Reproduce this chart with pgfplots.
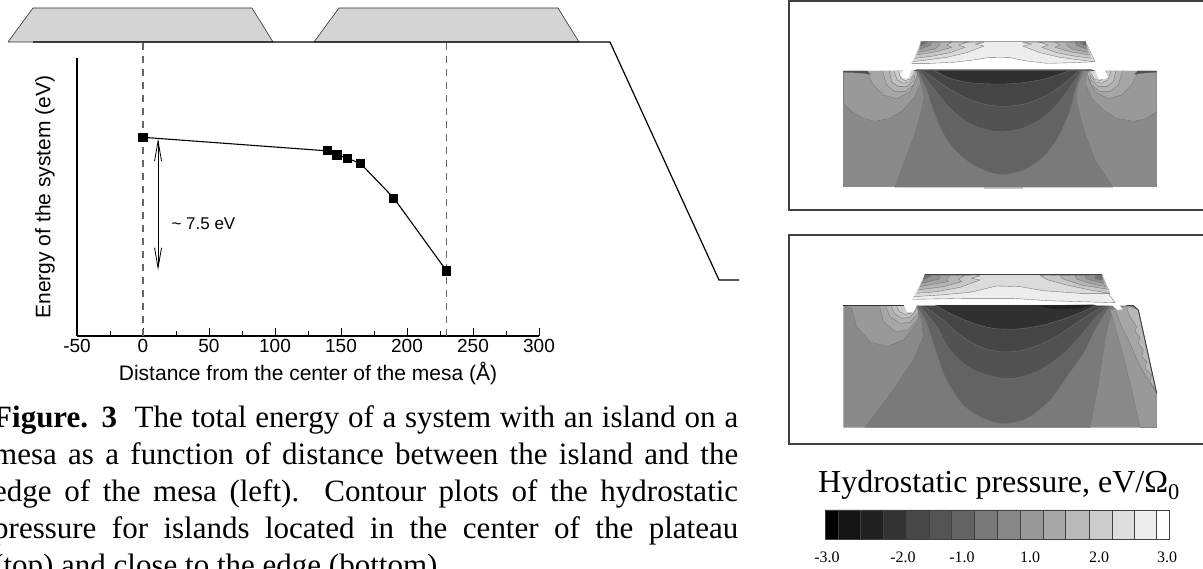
\documentclass[border=0pt]{standalone}
\usepackage{pgfplots}
\pgfplotsset{compat=1.18}
\usepackage{fontspec}
\setmainfont{Liberation Serif}
\newfontfamily\arialf{Liberation Sans}
\usetikzlibrary{arrows.meta}
% px -> pt: 1 px = 1 pt
\pgfplotsset{panel/.style={axis lines=none,scale only axis,y dir=reverse,clip=true,xmin=0,xmax=1269,anchor=south west}}
\newcommand\PP[2]{\addplot[fill=black!#1,draw=black!55,line width=.35pt,line join=round,forget plot] coordinates {#2};}
\newcommand\PS[2]{\addplot[smooth,tension=.55,fill=black!#1,draw=black!55,line width=.35pt,line join=round,forget plot] coordinates {#2};}
\newcommand\PN[2]{\addplot[fill=black!#1,draw=none,forget plot] coordinates {#2};}
\newcommand\PM[2]{\addplot[fill=black!#1,draw=black!55,line width=.35pt,line join=round,forget plot,x filter/.expression={1335-x}] coordinates {#2};}
\newcommand\PI[2]{\addplot[fill=black!#1,draw=black!55,line width=.35pt,line join=round,forget plot,x filter/.expression={1340-x}] coordinates {#2};}
\newcommand\PB[2]{\PP{#1}{#2}\PM{#1}{#2}}
\newcommand\PC[2]{\PP{#1}{#2}\PI{#1}{#2}}
\newcommand\SG[3]{\addplot[fill=black!#3,draw=black!75,line width=.7pt,forget plot] coordinates {(#1,180)(#2,180)(#2,267)(#1,267)(#1,180)};}
\begin{document}
\begin{tikzpicture}[x=1pt,y=1pt]
\useasboundingbox (0,0) rectangle (1203,569);
\clip (0,0) rectangle (1203,569);
% schematic of the mesas, full canvas in pixels
\begin{axis}[at={(0,0)},anchor=south west,scale only axis,width=1203pt,height=569pt,axis lines=none,
  xmin=0,xmax=1203,ymin=0,ymax=569,y dir=reverse,clip=false]
\addplot[fill=black!17,draw=black!80,line width=.6pt,forget plot] coordinates {(8,42)(33,8)(252,8)(273,42)(8,42)};
\addplot[fill=black!17,draw=black!80,line width=.6pt,forget plot] coordinates {(314,42)(339,8)(558,8)(579,42)(314,42)};
\addplot[draw=black,line width=1.2pt,forget plot] coordinates {(33,42)(610,42)(719,280)(739,280)};
\addplot[draw=black!75,line width=1.1pt,forget plot] coordinates {(1210,1)(789,1)(789,210)(1210,210)};
\addplot[draw=black!75,line width=1.1pt,forget plot] coordinates {(1210,235)(789,235)(789,444)(1210,444)};
\end{axis}
% energy curve
\begin{axis}[at={(77pt,233pt)},anchor=south west,scale only axis,width=462pt,height=278pt,
  axis x line=bottom,axis y line=left,axis line style={-,line width=1.2pt},
  xmin=-50,xmax=300,ymin=-3.64,ymax=11.92,clip=false,
  xtick={-50,0,...,300},minor xtick={-25,25,75,125,175,225,275},ytick=\empty,
  tick align=inside,tick style={black,line width=.9pt},major tick length=8pt,minor tick length=5pt,
  xticklabel style={font=\arialf\fontsize{19}{22}\selectfont},
  /pgf/number format/assume math mode=true,
  xlabel={Distance from the center of the mesa (Å)},
  xlabel style={font=\arialf\fontsize{21}{24}\selectfont,at={(axis description cs:0.5,0)},yshift=-38pt,anchor=center},
  ylabel={Energy of the system (eV)},
  ylabel style={font=\arialf\fontsize{21}{24}\selectfont,at={(axis description cs:0,0.5)},rotate=0,yshift=32pt,anchor=center}]
\addplot[draw=black!60,line width=1.4pt,dash pattern=on 7pt off 6pt,forget plot] coordinates {(0,-3.64)(0,12.81)};
\addplot[draw=black!60,line width=1.4pt,dash pattern=on 7pt off 6pt,forget plot] coordinates {(230,-3.64)(230,12.81)};
\addplot[black,line width=1.1pt,mark=square*,mark size=4pt,mark options={solid}] coordinates {
(0,7.48)(140,6.72)(147,6.49)(155,6.31)(165,6.0)(190,4.08)(230,0)};
\addplot[black,line width=.8pt,{Straight Barb[length=20pt,width=7pt]}-{Straight Barb[length=20pt,width=7pt]}] coordinates {(11.4,7.4)(11.4,0.05)};
\end{axis}
\node[anchor=base west,font=\arialf\fontsize{17}{20}\selectfont] at (168,339) {\textasciitilde{} 7.5 eV};
% top contour panel
\begin{axis}[panel,at={(780pt,354pt)},width=423pt,height=215pt,ymin=0,ymax=645]
\PN{46}{(190,213)(1130,213)(1130,562)(190,562)}
\PN{20}{(612,561)(730,561)(730,566)(612,566)}
\PP{40}{(190,213)(190,308)(215,335)(250,355)(285,364)(330,355)(370,330)(405,290)(422,250)(415,213)}
\PP{40}{(1130,213)(1130,335)(1100,355)(1060,364)(1010,355)(970,330)(935,295)(915,250)(920,213)}
\PB{35}{(262,213)(265,225)(280,255)(310,285)(350,297)(390,275)(410,235)(410,213)}
\PB{30}{(308,213)(310,223)(320,255)(345,275)(375,275)(400,255)(412,225)(410,213)}
\PB{25}{(328,213)(330,223)(335,245)(355,260)(380,260)(402,240)(405,213)}
\PB{20}{(343,213)(345,223)(352,240)(370,250)(390,245)(405,225)(405,213)}
\PB{15}{(356,213)(358,223)(362,235)(375,242)(392,237)(402,220)(402,213)}
\PP{70}{(190,213)(262,213)(272,223)(240,219)(190,217)}
\PP{70}{(1130,213)(1073,213)(1063,223)(1095,219)(1130,217)}
\PP{52}{(345,562)(375,480)(405,400)(425,330)(432,290)(425,250)(410,215)(910,215)(895,250)(888,290)(895,330)(915,400)(945,480)(998,562)}
\PS{61}{(415,213)(440,270)(460,330)(490,400)(530,455)(590,500)(660,523)(730,510)(790,470)(835,410)(870,330)(885,270)(905,213)}
\PS{68}{(420,213)(465,270)(510,325)(560,365)(620,390)(680,394)(740,380)(800,345)(850,290)(885,240)(900,213)}
\PS{73}{(430,213)(490,255)(550,290)(610,312)(670,319)(740,310)(810,280)(860,245)(895,213)}
\PS{81}{(465,213)(510,235)(570,248)(640,252)(710,250)(790,238)(840,222)(875,210)}
\PN{67}{(412,206)(932,206)(945,213)(400,213)}
\PN{0}{(423,125)(917,125)(945,185)(975,212)(985,232)(970,238)(955,235)(945,208)(395,208)(385,235)(370,235)(360,222)(390,190)}
\PP{7}{(423,125)(917,125)(945,185)(880,188)(800,190)(740,183)(690,173)(630,172)(580,180)(520,187)(450,190)(395,190)}
\PC{15}{(423,125)(612,128)(585,132)(612,138)(560,158)(500,172)(440,180)(398,185)}
\PC{22}{(423,125)(560,127)(535,135)(555,142)(510,158)(460,168)(405,175)}
\PC{29}{(423,125)(515,127)(500,135)(515,142)(470,155)(410,165)}
\PC{36}{(423,125)(480,127)(480,135)(465,147)(415,157)}
\PC{46}{(423,125)(455,127)(450,137)(420,147)}
\PC{58}{(423,125)(440,127)(422,138)}
\end{axis}
% bottom contour panel
\begin{axis}[panel,at={(780pt,119pt)},width=423pt,height=220pt,ymin=0,ymax=660]
\PN{46}{(190,227)(1060,227)(1075,240)(1130,490)(1130,593)(190,593)}
\PP{40}{(190,227)(215,235)(230,290)(270,335)(320,350)(370,330)(410,280)(420,250)(415,227)}
\PP{35}{(300,227)(300,235)(310,275)(345,305)(385,300)(415,265)(415,227)}
\PP{30}{(320,227)(320,235)(330,260)(360,280)(390,277)(415,250)(415,227)}
\PP{25}{(335,227)(335,233)(345,252)(365,265)(390,262)(408,240)(408,227)}
\PP{20}{(350,227)(350,230)(358,245)(375,253)(392,250)(405,230)(405,227)}
\PP{52}{(255,593)(340,480)(400,390)(430,320)(425,270)(410,230)(1000,230)(985,280)(975,330)(955,460)(930,593)}
\PP{40}{(1130,490)(1130,593)(1080,593)(1055,480)(1030,380)(1005,290)(990,240)(1040,227)(1075,240)}
\PP{35}{(1005,240)(1025,290)(1050,340)(1075,400)(1105,450)(1130,490)(1075,240)(1050,228)}
\PP{28}{(1040,232)(1050,260)(1070,290)(1065,305)(1080,320)(1075,340)(1090,360)(1085,380)(1100,395)(1095,415)(1115,435)(1110,455)(1128,480)(1130,490)(1075,240)}
\PS{61}{(412,228)(440,280)(470,370)(500,450)(550,525)(610,565)(670,580)(740,565)(810,510)(860,440)(910,370)(950,290)(990,228)}
\PS{68}{(420,228)(470,290)(510,360)(570,415)(640,440)(700,445)(770,425)(840,380)(900,320)(945,265)(985,228)}
\PS{73}{(430,228)(490,270)(540,315)(600,350)(660,365)(730,360)(810,330)(880,285)(950,240)(975,228)}
\PS{81}{(465,225)(520,255)(580,280)(640,295)(710,297)(790,285)(870,260)(930,235)(950,225)}
\PN{87}{(770,228)(830,238)(900,235)(945,222)}
\PN{0}{(435,133)(965,133)(1000,205)(1015,222)(1028,238)(1012,240)(995,224)(412,224)(398,248)(380,245)(372,225)(395,210)}
\PP{7}{(398,208)(560,205)(700,205)(800,212)(1005,218)(985,190)(965,133)(435,133)}
\PP{14}{(435,133)(965,133)(990,190)(900,190)(790,182)(720,170)(650,168)(570,187)(480,195)(402,200)}
\PP{22}{(435,133)(600,137)(575,145)(600,150)(540,172)(470,185)(410,190)}
\PP{29}{(435,133)(555,137)(535,147)(545,155)(490,170)(415,180)}
\PP{36}{(435,133)(510,137)(500,147)(505,155)(455,163)(420,170)}
\PP{44}{(435,133)(480,137)(478,147)(425,160)}
\PP{56}{(435,133)(455,137)(430,148)}
\PP{22}{(965,133)(780,137)(805,150)(860,165)(930,180)(990,190)}
\PP{29}{(965,133)(840,137)(850,147)(905,165)(985,178)}
\PP{36}{(965,133)(885,137)(890,147)(930,160)(978,170)}
\PP{44}{(965,133)(915,137)(920,147)(972,160)}
\PP{56}{(965,133)(945,137)(945,147)(968,150)}
\addplot[draw=black!80,line width=.8pt,forget plot] coordinates {(190,227)(372,227)};
\addplot[draw=black!75,line width=.9pt,forget plot] coordinates {(435,133)(965,133)};
\addplot[draw=black!75,line width=.9pt,forget plot] coordinates {(1040,227)(1060,227)(1075,240)(1130,490)};
\end{axis}
% colour scale
\begin{axis}[panel,at={(780pt,0pt)},width=423pt,height=119pt,ymin=0,ymax=357]
\SG{135}{175}{100}\SG{175}{241}{92}\SG{241}{310}{87}\SG{310}{380}{80}
\SG{380}{447}{72}\SG{447}{515}{67}\SG{515}{583}{61}\SG{583}{652}{53}
\SG{652}{722}{47}\SG{722}{790}{40}\SG{790}{856}{34}\SG{856}{928}{27}
\SG{928}{996}{20}\SG{996}{1064}{13}\SG{1064}{1130}{7}\SG{1130}{1168}{0}
\end{axis}
\node[anchor=base west,inner sep=0pt,font=\fontsize{32}{36}\selectfont] at (818,76) {Hydrostatic pressure, eV/Ω\textsubscript{0}};
\foreach \xx/\tt in {827/-3.0,903/-2.0,962/-1.0,1030/1.0,1099/2.0,1167/3.0}
  \node[anchor=base,font=\fontsize{16}{18}\selectfont] at (\xx,6) {\tt};
% caption
\def\capline#1#2{\node[anchor=base west,inner sep=0pt,font=\fontsize{31}{36}\selectfont] at (-7,#1) {\makebox[745pt][s]{#2}};}
\capline{141}{\textbf{Figure. 3}\ \ The total energy of a system with an island on a}
\capline{104}{mesa as a function of distance between the island and the}
\capline{67}{edge of the mesa (left).\ \ Contour plots of the hydrostatic}
\capline{30}{pressure for islands located in the center of the plateau}
\node[anchor=base west,inner sep=0pt,font=\fontsize{31}{36}\selectfont] at (-7,-7) {(top) and close to the edge (bottom).};
\end{tikzpicture}
\end{document}
